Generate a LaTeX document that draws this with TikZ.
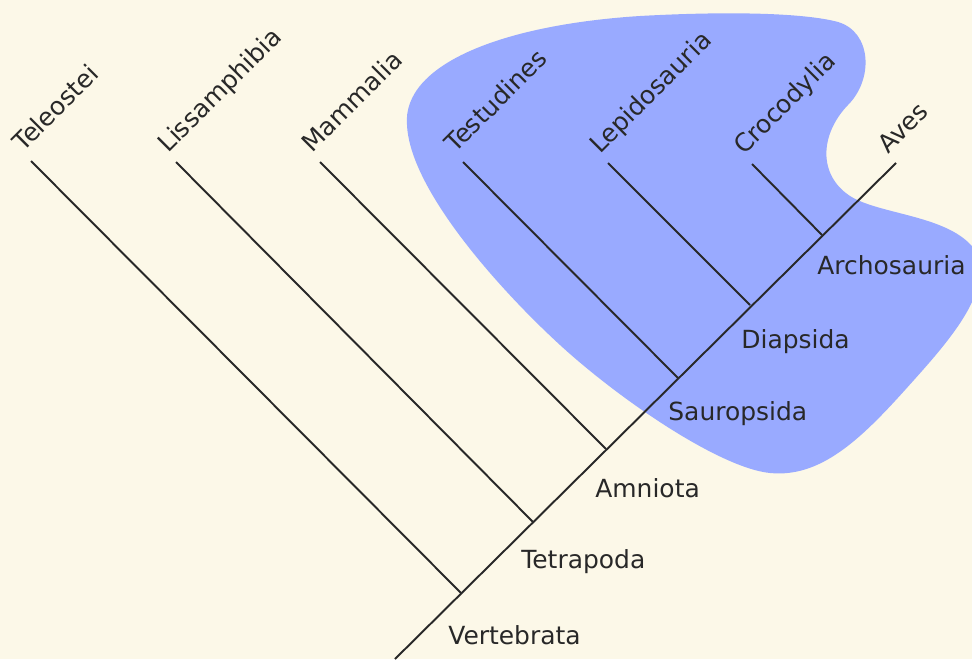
\documentclass[tikz,border=0pt]{standalone}
\usepackage{fontspec}
\setmainfont{DejaVu Sans}
\usetikzlibrary{calc}

\definecolor{paper}{RGB}{252,248,232}
\definecolor{cladefill}{RGB}{153,170,255}
\definecolor{ink}{RGB}{40,40,40}

\tikzset{
    branch/.style={draw=ink, line width=1.1pt},
    leaflabel/.style={anchor=base west, rotate=45, inner sep=0pt, text=ink,
        font=\fontsize{14.2}{17}\selectfont},
    cladelabel/.style={anchor=base west, inner sep=0pt, text=ink,
        font=\fontsize{14.2}{17}\selectfont},
}

\begin{document}
\begin{tikzpicture}[x=0.02cm, y=-0.02cm]
        \useasboundingbox (0,0) rectangle (972,659);
        \fill[paper] (0,0) rectangle (972,659);

        % Sauropsida blob
        \begin{scope}
            \clip (0,0) rectangle (972,659);
            \fill[cladefill] (407,125)
                .. controls (402,65) and (500,25) .. (640,16)
                .. controls (730,11) and (805,13) .. (838,22)
                .. controls (872,32) and (874,80) .. (847,106)
                .. controls (820,135) and (818,175) .. (850,196)
                .. controls (880,215) and (950,215) .. (975,250)
                .. controls (995,290) and (950,340) .. (905,390)
                .. controls (860,440) and (820,478) .. (770,473)
                .. controls (720,468) and (620,400) .. (560,345)
                .. controls (500,290) and (410,190) .. (407,125) -- cycle;
        \end{scope}

        % Inner nodes on the spine
        \coordinate (root) at (395,659);
        \coordinate (vertebrata) at (461,593);
        \coordinate (tetrapoda) at (533,522);
        \coordinate (amniota) at (606,449);
        \coordinate (sauropsida) at (678,378);
        \coordinate (diapsida) at (750,305);
        \coordinate (archosauria) at (822,235);

        % Leaf ends
        \coordinate (teleostei) at (31,161);
        \coordinate (lissamphibia) at (176,162);
        \coordinate (mammalia) at (320,162);
        \coordinate (testudines) at (463,162);
        \coordinate (lepidosauria) at (608,163);
        \coordinate (crocodylia) at (752,164);
        \coordinate (aves) at (896,163);

        \draw[branch] (root) -- (aves);
        \draw[branch] (teleostei) -- (vertebrata);
        \draw[branch] (lissamphibia) -- (tetrapoda);
        \draw[branch] (mammalia) -- (amniota);
        \draw[branch] (testudines) -- (sauropsida);
        \draw[branch] (lepidosauria) -- (diapsida);
        \draw[branch] (crocodylia) -- (archosauria);

        % Leaf labels
        \node[leaflabel] (teleosteiLabel) at ($(teleostei)+(-8,-8)$) {Teleostei};
        \node[leaflabel] (lissamphibiaLabel) at ($(lissamphibia)+(-8,-8)$) {Lissamphibia};
        \node[leaflabel] (mammaliaLabel) at ($(mammalia)+(-8,-8)$) {Mammalia};
        \node[leaflabel] (testudinesLabel) at ($(testudines)+(-8,-8)$) {Testudines};
        \node[leaflabel] (lepidosauriaLabel) at ($(lepidosauria)+(-8,-8)$) {Lepidosauria};
        \node[leaflabel] (crocodyliaLabel) at ($(crocodylia)+(-8,-8)$) {Crocodylia};
        \node[leaflabel] (avesLabel) at ($(aves)+(-8,-8)$) {Aves};

        % Clade labels
        \node[cladelabel] (vertebrataLabel) at ($(vertebrata)+(-13,51)$) {Vertebrata};
        \node[cladelabel] (tetrapodaLabel) at ($(tetrapoda)+(-12,46)$) {Tetrapoda};
        \node[cladelabel] (amniotaLabel) at ($(amniota)+(-11,48)$) {Amniota};
        \node[cladelabel] (sauropsidaLabel) at ($(sauropsida)+(-10,42)$) {Sauropsida};
        \node[cladelabel] (diapsidaLabel) at ($(diapsida)+(-9,43)$) {Diapsida};
        \node[cladelabel] (archosauriaLabel) at ($(archosauria)+(-5,39)$) {Archosauria};
    \end{tikzpicture}
\end{document}
